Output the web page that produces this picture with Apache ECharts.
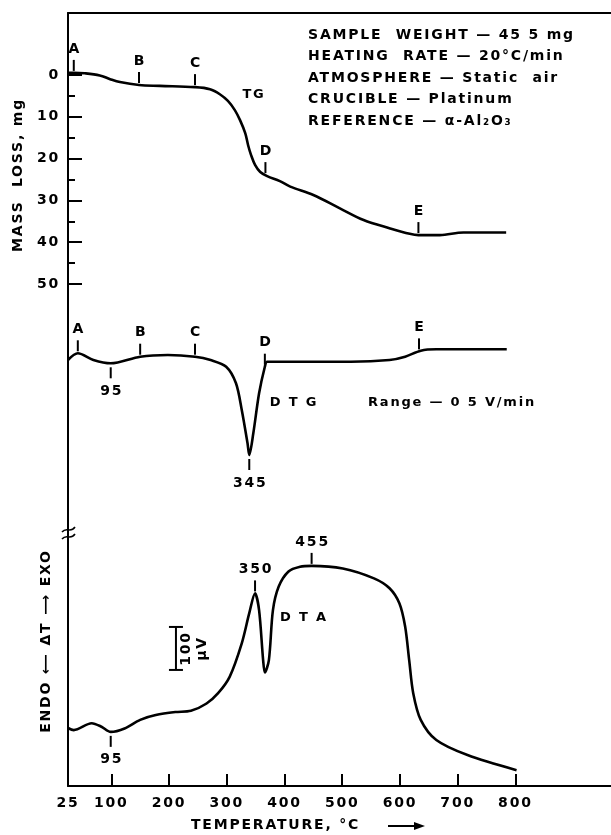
<!DOCTYPE html>
<html>
<head>
<meta charset="utf-8">
<script src="https://cdn.jsdelivr.net/npm/echarts@6/dist/echarts.min.js"></script>
<style>
html,body{margin:0;padding:0;background:#fff;}
#chart{width:611px;height:835px;}
</style>
</head>
<body>
<div id="chart"></div>
<script>
// ---------------- DATA ----------------
// TG curve: temperature (°C) and mass loss (mg)
const tgTemp = [25, 35, 54, 80, 98, 115, 148, 184, 245, 271, 288, 302, 314, 323, 332, 337, 342, 349, 358, 370, 392, 410, 450, 496, 537, 583, 617, 632, 669, 710, 784];
const tgMass = [-0.5, -0.5, -0.4, 0.1, 1.0, 1.7, 2.4, 2.6, 2.9, 3.4, 4.6, 6.2, 8.4, 10.8, 13.9, 16.8, 19.1, 21.5, 23.2, 24.2, 25.4, 26.7, 28.7, 31.9, 34.7, 36.7, 38.0, 38.3, 38.3, 37.7, 37.7];

// DTG curve: temperature (°C) and rate signal (arbitrary units, up = positive)
const dtgTemp = [25, 42, 69, 99, 150, 198, 245, 272, 299, 316, 326, 336, 339, 346, 356, 366, 370, 393, 515, 582, 609, 636, 663, 785];
const dtgRate = [0, 0.67, 0, -0.33, 0.33, 0.5, 0.33, 0, -0.67, -2.33, -5.0, -8.33, -9.5, -7.33, -3.33, -0.67, -0.17, -0.17, -0.17, 0, 0.33, 0.93, 1.07, 1.07];

// DTA curve: temperature (°C) and ΔT signal (µV, exo up)
const dtaTemp = [25, 35, 66, 83, 99, 123, 150, 177, 211, 238, 265, 285, 305, 326, 339, 349, 356, 363, 366, 373, 380, 390, 407, 427, 447, 501, 555, 582, 599, 609, 616, 623, 636, 663, 717, 802];
const dtaSignal = [0, -5, 11, 3, -9, -1, 19, 30, 37, 40, 57, 81, 119, 197, 267, 313, 274, 158, 129, 158, 274, 329, 364, 375, 377, 371, 348, 325, 290, 236, 158, 81, 19, -28, -63, -98];

// Axis ticks / labels
const xTickLabels = [25, 100, 200, 300, 400, 500, 600, 700, 800];
const xTicks = [100, 200, 300, 400, 500, 600, 700, 800];
const massMajor = [0, 10, 20, 30, 40, 50];
const massMinor = [5, 15, 25, 35, 45];

// Annotation marks (temperature, label, direction 1=above curve, -1=below)
const tgMarkTemp = [35, 148, 245, 367, 632];
const tgMarkLabel = ['A', 'B', 'C', 'D', 'E'];
const tgMarkDir = [1, 1, 1, 1, 1];
const dtgMarkTemp = [42, 150, 245, 366, 633, 99, 339];
const dtgMarkLabel = ['A', 'B', 'C', 'D', 'E', '95', '345'];
const dtgMarkDir = [1, 1, 1, 1, 1, -1, -1];
const dtaMarkTemp = [99, 349, 447];
const dtaMarkLabel = ['95', '350', '455'];
const dtaMarkDir = [-1, 1, 1];

// DTA scale bar: 100 µV
const scaleBarTemp = 212;
const scaleBarFrom = 135;
const scaleBarSpan = 100;

const infoLines = [
  'SAMPLE  WEIGHT — 45 5 mg',
  'HEATING  RATE — 20°C/min',
  'ATMOSPHERE — Static  air',
  'CRUCIBLE — Platinum',
  'REFERENCE — α-Al₂O₃'
];

// ---------------- wide-tracked lettering (as in the original drawing) ----------------
(function () {
  const P = CanvasRenderingContext2D.prototype;
  if (!('letterSpacing' in P)) return;
  const LS = '1.8px';
  const ft = P.fillText, mt = P.measureText;
  P.fillText = function () { this.letterSpacing = LS; return ft.apply(this, arguments); };
  P.measureText = function () { this.letterSpacing = LS; return mt.apply(this, arguments); };
})();

// ---------------- CHART ----------------
const FONT = '"DejaVu Sans", sans-serif';
const fnt = (s) => 'bold ' + s + 'px ' + FONT;
const zip = (a, b) => a.map((v, i) => [v, b[i]]);
function interp(xs, ys, t) {
  if (t <= xs[0]) return ys[0];
  for (let i = 1; i < xs.length; i++) {
    if (t <= xs[i]) {
      const f = (t - xs[i - 1]) / (xs[i] - xs[i - 1]);
      return ys[i - 1] + f * (ys[i] - ys[i - 1]);
    }
  }
  return ys[ys.length - 1];
}
function markData(temps, dirs, xs, ys) {
  return temps.map((t, i) => [t, interp(xs, ys, t), dirs[i]]);
}
function markRenderer(labels) {
  return function (params, api) {
    const p = api.coord([api.value(0), api.value(1)]);
    const dir = api.value(2);
    const len = 11;
    let y1, y2;
    if (dir > 0) { y1 = p[1] - 2; y2 = y1 - len; } else { y1 = p[1] + 4; y2 = y1 + len; }
    return {
      type: 'group',
      children: [
        { type: 'line', shape: { x1: p[0], y1: y1, x2: p[0], y2: y2 }, style: { stroke: '#000', lineWidth: 2 } },
        { type: 'text', style: { text: labels[params.dataIndex], x: p[0] + 1, y: dir > 0 ? y2 - 3 : y2 + 5,
          align: 'center', verticalAlign: dir > 0 ? 'bottom' : 'top', font: fnt(14), fill: '#000' } }
      ]
    };
  };
}

const chart = echarts.init(document.getElementById('chart'), null, { renderer: 'canvas' });

const lineStyle = { color: '#000', width: 2.6 };
const option = {
  animation: false,
  backgroundColor: '#fff',
  grid: { left: 68, right: 0, top: 13, bottom: 49, containLabel: false },
  xAxis: [
    {
      type: 'value', position: 'bottom', min: 25, max: 965.6,
      axisLine: { show: true, onZero: false, lineStyle: { color: '#000', width: 2 } },
      axisTick: { show: true, inside: true, length: 12, lineStyle: { color: '#000', width: 2 }, customValues: xTicks },
      axisLabel: { show: true, customValues: xTickLabels, color: '#000', fontFamily: FONT, fontWeight: 'bold', fontSize: 14, margin: 9 },
      splitLine: { show: false }
    },
    {
      type: 'value', position: 'top', min: 25, max: 965.6,
      axisLine: { show: true, onZero: false, lineStyle: { color: '#000', width: 2 } },
      axisTick: { show: false }, axisLabel: { show: false }, splitLine: { show: false }
    }
  ],
  yAxis: [
    {
      type: 'value', position: 'left', inverse: true, min: -14.83, max: 170.1,
      axisLine: { show: true, onZero: false, lineStyle: { color: '#000', width: 2 } },
      axisTick: { show: true, inside: true, length: 14, lineStyle: { color: '#000', width: 2 }, customValues: massMajor },
      axisLabel: { show: true, customValues: massMajor, color: '#000', fontFamily: FONT, fontWeight: 'bold', fontSize: 14, margin: 8 },
      splitLine: { show: false }
    },
    {
      type: 'value', position: 'left', inverse: true, min: -14.83, max: 170.1,
      axisLine: { show: false, onZero: false },
      axisTick: { show: true, inside: true, length: 7, lineStyle: { color: '#000', width: 2 }, customValues: massMinor },
      axisLabel: { show: false }, splitLine: { show: false }
    },
    { type: 'value', min: -42.6, max: 34.7, show: false },
    { type: 'value', min: -134.9, max: 1662.8, show: false }
  ],
  series: [
    { name: 'TG', type: 'line', xAxisIndex: 0, yAxisIndex: 0, data: zip(tgTemp, tgMass), smooth: 0.35, symbol: 'none', lineStyle: lineStyle },
    { name: 'DTG', type: 'line', xAxisIndex: 0, yAxisIndex: 2, data: zip(dtgTemp, dtgRate), smooth: 0.3, symbol: 'none', lineStyle: lineStyle },
    { name: 'DTA', type: 'line', xAxisIndex: 0, yAxisIndex: 3, data: zip(dtaTemp, dtaSignal), smooth: 0.3, symbol: 'none', lineStyle: lineStyle },
    { type: 'custom', xAxisIndex: 0, yAxisIndex: 0, renderItem: markRenderer(tgMarkLabel),
      data: markData(tgMarkTemp, tgMarkDir, tgTemp, tgMass), encode: { x: 0, y: 1 }, z: 5 },
    { type: 'custom', xAxisIndex: 0, yAxisIndex: 2, renderItem: markRenderer(dtgMarkLabel),
      data: markData(dtgMarkTemp, dtgMarkDir, dtgTemp, dtgRate), encode: { x: 0, y: 1 }, z: 5 },
    { type: 'custom', xAxisIndex: 0, yAxisIndex: 3, renderItem: markRenderer(dtaMarkLabel),
      data: markData(dtaMarkTemp, dtaMarkDir, dtaTemp, dtaSignal), encode: { x: 0, y: 1 }, z: 5 },
    { type: 'custom', xAxisIndex: 0, yAxisIndex: 3, encode: { x: 0, y: 1 },
      data: [[scaleBarTemp, scaleBarFrom, scaleBarFrom + scaleBarSpan]],
      renderItem: function (params, api) {
        const a = api.coord([api.value(0), api.value(1)]);
        const b = api.coord([api.value(0), api.value(2)]);
        const x = a[0], cy = (a[1] + b[1]) / 2;
        return { type: 'group', children: [
          { type: 'line', shape: { x1: x, y1: a[1], x2: x, y2: b[1] }, style: { stroke: '#000', lineWidth: 2 } },
          { type: 'line', shape: { x1: x - 7, y1: a[1], x2: x + 7, y2: a[1] }, style: { stroke: '#000', lineWidth: 2 } },
          { type: 'line', shape: { x1: x - 7, y1: b[1], x2: x + 7, y2: b[1] }, style: { stroke: '#000', lineWidth: 2 } },
          { type: 'text', x: x + 10, y: cy, rotation: Math.PI / 2, style: { text: '100', x: 0, y: 0, align: 'center', verticalAlign: 'middle', font: fnt(14), fill: '#000' } },
          { type: 'text', x: x + 26, y: cy, rotation: Math.PI / 2, style: { text: 'μV', x: 0, y: 0, align: 'center', verticalAlign: 'middle', font: fnt(14), fill: '#000' } }
        ] };
      }
    }
  ],
  graphic: [
    ...infoLines.map((t, i) => ({
      type: 'text', x: 308, y: 35 + i * 21.5,
      style: { text: t, font: fnt(14), fill: '#000', align: 'left', verticalAlign: 'middle' }
    })),
    { type: 'text', x: 254, y: 95, style: { text: 'TG', font: fnt(13), fill: '#000', align: 'center', verticalAlign: 'middle' } },
    { type: 'text', x: 294, y: 403, style: { text: 'D T G', font: fnt(13), fill: '#000', align: 'center', verticalAlign: 'middle' } },
    { type: 'text', x: 368, y: 403, style: { text: 'Range — 0 5 V/min', font: fnt(13), fill: '#000', align: 'left', verticalAlign: 'middle' } },
    { type: 'text', x: 304, y: 618, style: { text: 'D T A', font: fnt(13), fill: '#000', align: 'center', verticalAlign: 'middle' } },
    { type: 'text', x: 18, y: 175, rotation: Math.PI / 2, style: { text: 'MASS  LOSS, mg', font: fnt(14), fill: '#000', align: 'center', verticalAlign: 'middle' } },
    { type: 'text', x: 46, y: 641, rotation: Math.PI / 2, style: { text: 'ENDO ⟵ ΔT ⟶ EXO', font: fnt(14), fill: '#000', align: 'center', verticalAlign: 'middle' } },
    { type: 'text', x: 191, y: 825, style: { text: 'TEMPERATURE, °C', font: fnt(14), fill: '#000', align: 'left', verticalAlign: 'middle' } },
    { type: 'line', shape: { x1: 388, y1: 826, x2: 416, y2: 826 }, style: { stroke: '#000', lineWidth: 2 } },
    { type: 'polygon', shape: { points: [[425, 826], [414, 822], [414, 830]] }, style: { fill: '#000' } },
    { type: 'bezierCurve', shape: { x1: 62, y1: 532, cpx1: 67, cpy1: 526, cpx2: 70, cpy2: 534, x2: 75, y2: 527 }, style: { stroke: '#000', fill: null, lineWidth: 1.6 } },
    { type: 'bezierCurve', shape: { x1: 62, y1: 539, cpx1: 67, cpy1: 533, cpx2: 70, cpy2: 541, x2: 75, y2: 534 }, style: { stroke: '#000', fill: null, lineWidth: 1.6 } }
  ]
};
chart.setOption(option);
</script>
</body>
</html>
